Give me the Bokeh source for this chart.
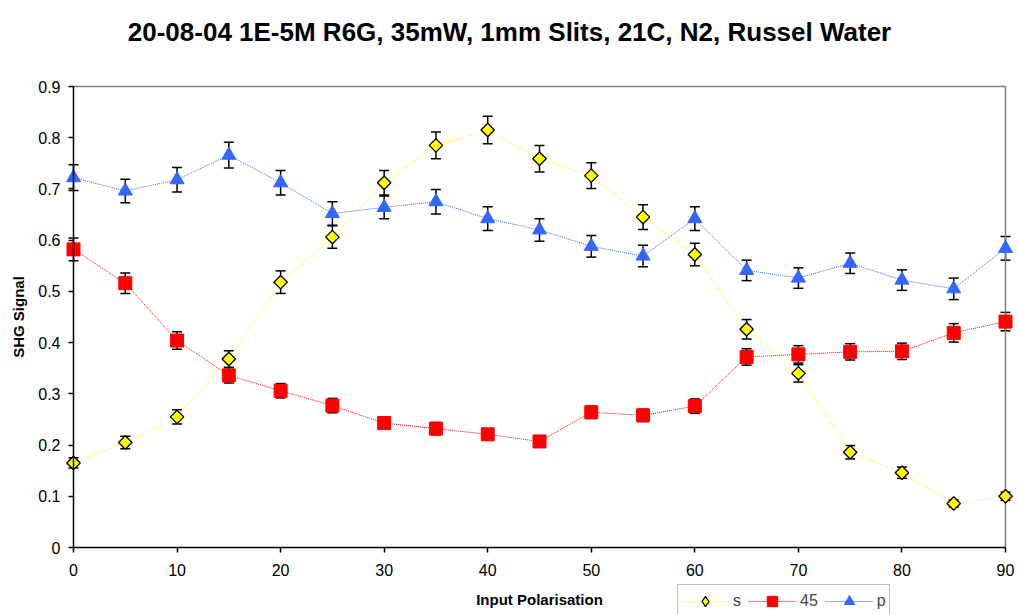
from bokeh.plotting import figure
from bokeh.models import (ColumnDataSource, Whisker, TeeHead, Legend, LegendItem, FixedTicker,
                          Range1d, CDSView, IndexFilter)
from bokeh.embed import file_html
from bokeh.resources import INLINE
import math

# Data
polarisation = [0, 5, 10, 15, 20, 25, 30, 35, 40, 45, 50, 55, 60, 65, 70, 75, 80, 85, 90]

s_vals = [0.165, 0.205, 0.255, 0.368, 0.518, 0.606, 0.712, 0.785, 0.815, 0.759,
          0.726, 0.645, 0.572, 0.426, 0.340, 0.186, 0.146, 0.086, 0.100]
s_err = [0.010, 0.012, 0.014, 0.016, 0.022, 0.022, 0.024, 0.026, 0.027, 0.026,
         0.025, 0.024, 0.022, 0.019, 0.017, 0.013, 0.011, 0.007, 0.008]

v45_vals = [0.582, 0.516, 0.404, 0.336, 0.306, 0.277, 0.243, 0.232, 0.221, 0.207,
            0.264, 0.258, 0.276, 0.372, 0.377, 0.382, 0.383, 0.419, 0.441]
v45_err = [0.022, 0.020, 0.017, 0.015, 0.014, 0.014, 0.012, 0.012, 0.011, 0.010,
           0.012, 0.012, 0.014, 0.016, 0.017, 0.016, 0.016, 0.018, 0.018]

p_vals = [0.722, 0.696, 0.718, 0.766, 0.712, 0.652, 0.664, 0.675, 0.642, 0.620,
          0.588, 0.569, 0.642, 0.541, 0.526, 0.555, 0.522, 0.505, 0.584]
p_err = [0.025, 0.023, 0.024, 0.025, 0.024, 0.023, 0.022, 0.024, 0.023, 0.022,
         0.021, 0.021, 0.023, 0.020, 0.020, 0.020, 0.020, 0.021, 0.023]

x_ticks = [0, 10, 20, 30, 40, 50, 60, 70, 80, 90]
y_ticks = [0, 0.1, 0.2, 0.3, 0.4, 0.5, 0.6, 0.7, 0.8, 0.9]

series_names = ["s", "45", "p"]
x_label = "Input Polarisation"
y_label = "SHG Signal"
title_text = "20-08-04 1E-5M R6G, 35mW, 1mm Slits, 21C, N2, Russel Water"
FONT = "Liberation Sans"

# Layout geometry (pixels): plotting box spans x 73..1005, y 86..547 in a 1018x614 page.
W, H, TOP = 1018, 614, 60
BOX_L, BOX_R, BOX_T, BOX_B = 73, 1005, 86, 547
xspan = x_ticks[-1] - x_ticks[0]
yspan = y_ticks[-1] - y_ticks[0]
xs = (BOX_R - BOX_L) / xspan
ys = (BOX_B - BOX_T) / yspan
x_range = Range1d(x_ticks[0] - BOX_L / xs, x_ticks[-1] + (W - BOX_R) / xs)
y_range = Range1d(y_ticks[0] - (H - BOX_B) / ys, y_ticks[-1] + (BOX_T - TOP) / ys)

p = figure(width=W, height=H, output_backend="svg", toolbar_location=None,
           x_range=x_range, y_range=y_range,
           min_border_left=0, min_border_right=0, min_border_top=TOP, min_border_bottom=0)

p.title.text = title_text
p.title.align = "center"
p.title.text_font = FONT
p.title.text_font_size = "26px"
p.title.text_font_style = "bold"
p.title.text_color = "black"
p.title.standoff = 28

p.background_fill_color = "white"
p.border_fill_color = "white"
p.outline_line_color = None
p.grid.visible = False

p.xaxis.ticker = FixedTicker(ticks=x_ticks)
p.yaxis.ticker = FixedTicker(ticks=y_ticks)
p.xaxis.fixed_location = y_ticks[0]
p.yaxis.fixed_location = x_ticks[0]
p.xaxis.bounds = (x_ticks[0], x_ticks[-1])
p.yaxis.bounds = (y_ticks[0], y_ticks[-1])
p.yaxis.major_label_overrides = {0: "0"}
for ax in (p.xaxis[0], p.yaxis[0]):
    ax.axis_line_color = "black"
    ax.axis_line_width = 1.5
    ax.major_tick_line_color = "black"
    ax.major_tick_line_width = 1.5
    ax.major_tick_in = 0
    ax.major_tick_out = 5
    ax.minor_tick_line_color = None
    ax.major_label_text_font = FONT
    ax.major_label_text_font_size = "16px"
    ax.major_label_text_color = "black"
    ax.axis_label_text_font = FONT
    ax.axis_label_text_font_size = "15px"
    ax.axis_label_text_font_style = "bold"
    ax.axis_label_text_color = "black"

p.xaxis.axis_label = x_label
p.yaxis.axis_label = y_label
p.xaxis.major_label_standoff = 11
p.xaxis.axis_label_standoff = 12
p.yaxis.major_label_standoff = 8
p.yaxis.axis_label_standoff = 8

# grey plot-area border on the top and right sides
p.line(x=[x_ticks[0], x_ticks[-1], x_ticks[-1]], y=[y_ticks[-1], y_ticks[-1], y_ticks[0]],
       line_color="#808080", line_width=1.5)

src = ColumnDataSource(dict(
    x=polarisation,
    s=s_vals, s_lo=[v - e for v, e in zip(s_vals, s_err)], s_hi=[v + e for v, e in zip(s_vals, s_err)],
    a=v45_vals, a_lo=[v - e for v, e in zip(v45_vals, v45_err)], a_hi=[v + e for v, e in zip(v45_vals, v45_err)],
    pp=p_vals, p_lo=[v - e for v, e in zip(p_vals, p_err)], p_hi=[v + e for v, e in zip(p_vals, p_err)],
))

for lo, hi in (("s_lo", "s_hi"), ("a_lo", "a_hi"), ("p_lo", "p_hi")):
    w = Whisker(source=src, base="x", lower=lo, upper=hi, level="underlay",
                line_color="black", line_width=1.5,
                upper_head=TeeHead(size=10, line_color="black", line_width=1.5),
                lower_head=TeeHead(size=10, line_color="black", line_width=1.5))
    p.add_layout(w)

YEL = "#FFFF00"
RED = "#FF0000"
BLUE = "#3366FF"

l1 = p.line("x", "s", source=src, line_color=YEL, line_width=1, line_dash="1 1")
l2 = p.line("x", "a", source=src, line_color=RED, line_width=1, line_dash="1 1")
l3 = p.line("x", "pp", source=src, line_color=BLUE, line_width=1, line_dash="1 1")
# legend swatch for the diamond series: one small diamond hidden under the first point
m1_key = p.scatter("x", "s", source=src, view=CDSView(filter=IndexFilter(indices=[0])),
                   marker="diamond", size=11, fill_color=YEL, line_color="black", line_width=1.3)
m1 = p.scatter("x", "s", source=src, marker="square", angle=math.pi / 4, size=9.5,
               fill_color=YEL, line_color="black", line_width=1.3)
m2 = p.scatter("x", "a", source=src, marker="square", size=13, fill_color=RED,
               line_color=RED, line_width=1)
m3 = p.scatter("x", "pp", source=src, marker="triangle", size=14, fill_color=BLUE,
               line_color=BLUE, line_width=1)

legend = Legend(items=[
    LegendItem(label=series_names[0], renderers=[l1, m1_key]),
    LegendItem(label=series_names[1], renderers=[l2, m2]),
    LegendItem(label=series_names[2], renderers=[l3, m3]),
], orientation="horizontal", location=(677, -4))
legend.label_text_font = FONT
legend.label_text_font_size = "16px"
legend.label_width = 0
legend.glyph_width = 48
legend.glyph_height = 26
legend.spacing = 7
legend.padding = 3
legend.margin = 0
legend.label_standoff = 4
legend.border_line_color = "#808080"
legend.border_line_width = 1.5
legend.background_fill_color = "white"
legend.background_fill_alpha = 1
p.add_layout(legend, "center")

open("out.html", "w").write(file_html(p, INLINE))
